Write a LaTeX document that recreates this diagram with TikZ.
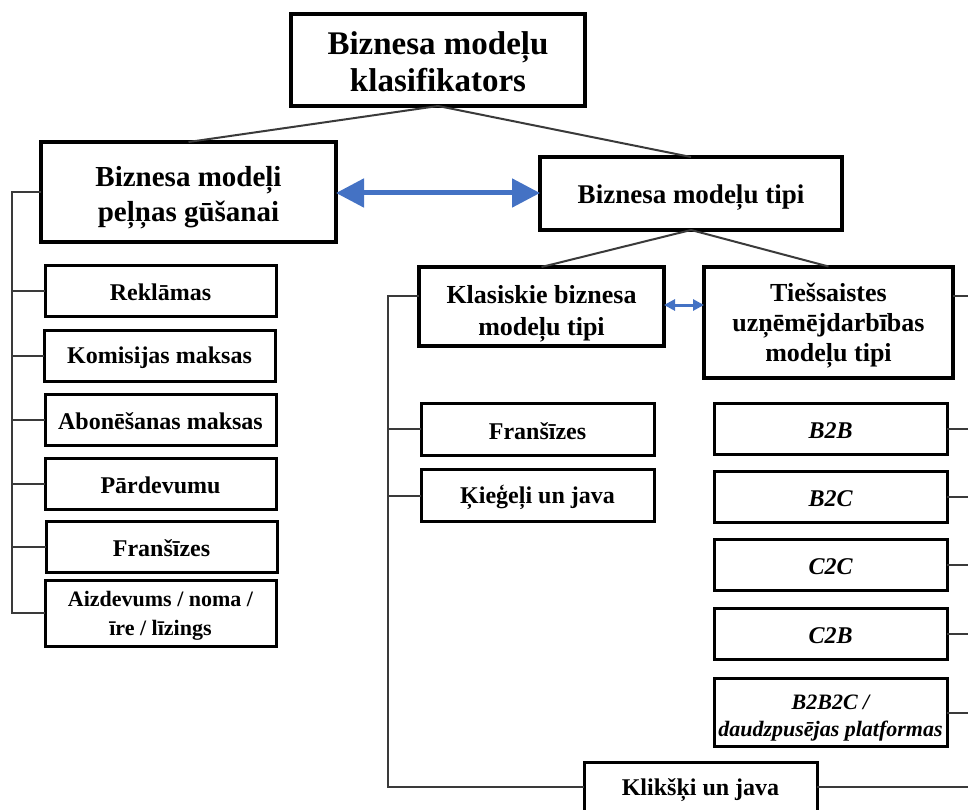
\documentclass[tikz,border=0pt]{standalone}
\usepackage{fontspec}
\setmainfont{Liberation Serif}
\usetikzlibrary{arrows.meta}
\definecolor{arrowblue}{HTML}{4472C4}
\definecolor{linegray}{HTML}{3A3A3A}
\tikzset{
  boxbase/.style={draw=black, fill=white, inner sep=0pt, outer sep=0pt},
  bigbox/.style={boxbase, line width=4.5pt},
  midbox/.style={boxbase, line width=4pt},
  smallbox/.style={boxbase, line width=3pt},
  txt/.style={inner sep=0pt, align=center},
  conn/.style={draw=linegray, line width=2pt},
  blueArrow/.style={draw=arrowblue, line width=5pt, {Triangle[length=28pt,width=28pt]}-{Triangle[length=28pt,width=28pt]}},
  blueArrowSmall/.style={draw=arrowblue, line width=3pt, {Triangle[length=11pt,width=11pt]}-{Triangle[length=11pt,width=11pt]}},
  fA/.style={font=\bfseries\fontsize{33}{37}\selectfont},
  fB/.style={font=\bfseries\fontsize{29}{35}\selectfont},
  fR/.style={font=\bfseries\fontsize{27}{32}\selectfont},
  fC/.style={font=\bfseries\fontsize{26}{32}\selectfont},
  fT/.style={font=\bfseries\fontsize{26}{30}\selectfont},
  fD/.style={font=\bfseries\fontsize{24}{28}\selectfont},
  fDi/.style={font=\bfseries\itshape\fontsize{24}{28}\selectfont},
  fDiS/.style={font=\bfseries\itshape\fontsize{22}{27}\selectfont},
  fDS/.style={font=\bfseries\fontsize{22}{28}\selectfont},
  colL/.style={smallbox, minimum width=231pt, minimum height=51pt},
  colM/.style={smallbox, minimum width=233pt, minimum height=52pt},
  colR/.style={smallbox, minimum width=233pt, minimum height=51pt},
}
% #1 box style, #2 font style, #3 name, #4 position, #5 text offset downwards, #6 text
\newcommand\bxnode[6]{%
  \node[#1] (#3) at #4 {};
  \node[txt, #2, yshift=-#5pt] (#3t) at (#3.center) {#6};
}
\begin{document}
\begin{tikzpicture}[x=1pt,y=-1pt]
\useasboundingbox (0,0) rectangle (968,810);

% top level
\bxnode{bigbox, minimum width=294pt, minimum height=92pt}{fA}{top}{(438,60)}{2}{Biznesa modeļu\\klasifikators}
\bxnode{bigbox, minimum width=295pt, minimum height=100pt}{fB}{L1}{(188.5,192)}{6}{Biznesa modeļi\\peļņas gūšanai}
\bxnode{bigbox, minimum width=302pt, minimum height=73pt}{fR}{R1}{(691,193.5)}{4}{Biznesa modeļu tipi}

\draw[conn] (top.south) -- (L1.north);
\draw[conn] (top.south) -- (R1.north);
\draw[blueArrow] (L1.east |- 0,193) -- (R1.west |- 0,193);

% left column
\bxnode{colL}{fD}{A1}{(160.5,290.5)}{2}{Reklāmas}
\bxnode{colL}{fD}{A2}{(159.5,355.5)}{2}{Komisijas maksas}
\bxnode{colL}{fD}{A3}{(160.5,419.5)}{2}{Abonēšanas maksas}
\bxnode{colL}{fD}{A4}{(160.5,483.5)}{2}{Pārdevumu}
\bxnode{colL}{fD}{A5}{(161.5,546.5)}{2}{Franšīzes}
\bxnode{colL, minimum height=66pt}{font=\bfseries\fontsize{22}{29}\selectfont}{A6}{(160.5,613)}{3}{Aizdevums / noma /\\īre / līzings}

\coordinate (barL) at (12,192);
\draw[conn] (L1.west |- barL) -- (barL) |- (A6.west);
\foreach \n in {A1,A2,A3,A4,A5}{
  \draw[conn] (\n.west) -- (\n.west -| barL);
}

% second level right
\bxnode{midbox, minimum width=245pt, minimum height=79pt}{fC}{K1}{(541.5,306.5)}{7}{Klasiskie biznesa\\modeļu tipi}
\bxnode{midbox, minimum width=249pt, minimum height=111pt}{fT}{T1}{(828.5,322)}{4}{Tiešsaistes\\uzņēmējdarbības\\modeļu tipi}
\draw[conn] (R1.south) -- (K1.north);
\draw[conn] (R1.south) -- (T1.north);
\draw[blueArrowSmall] (K1.east |- 0,305) -- (T1.west |- 0,305);

% classic column
\bxnode{colM}{fD}{M1}{(537.5,429)}{2}{Franšīzes}
\bxnode{colM}{fD}{M2}{(537.5,495.5)}{2}{Ķieģeļi un java}
\bxnode{smallbox, minimum width=233pt, minimum height=50pt}{fD}{KL}{(700.5,787)}{3}{Klikšķi un java}

\coordinate (barM) at (388,296);
\draw[conn] (K1.west |- barM) -- (barM) |- (KL.west);
\foreach \n in {M1,M2}{
  \draw[conn] (\n.west) -- (\n.west -| barM);
}

% online column
\bxnode{colR}{fDi}{B1}{(830.5,428.5)}{2}{B2B}
\bxnode{colR}{fDi}{B2}{(830.5,496.5)}{2}{B2C}
\bxnode{colR}{fDi}{B3}{(830.5,564.5)}{2}{C2C}
\bxnode{colR}{fDi}{B4}{(830.5,633.5)}{2}{C2B}
\bxnode{colR, minimum height=68pt}{fDiS}{B5}{(830.5,712.5)}{6}{B2B2C /\\daudzpusējas platformas}

\coordinate (edgeR) at (985,0);
\draw[conn] (T1.east |- 0,296) -- (edgeR |- 0,296);
\foreach \n in {B1,B2,B3,B4,B5,KL}{
  \draw[conn] (\n.east) -- (\n.east -| edgeR);
}
\end{tikzpicture}
\end{document}
